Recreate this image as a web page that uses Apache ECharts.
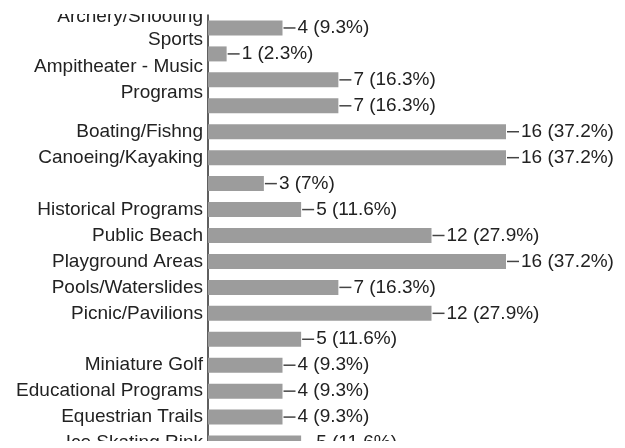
<!DOCTYPE html>
<html>
<head>
<meta charset="utf-8">
<script src="https://cdn.jsdelivr.net/npm/echarts@6/dist/echarts.min.js"></script>
<style>
  html, body { margin: 0; padding: 0; background: #ffffff; }
  #chart { width: 625px; height: 448px; }
</style>
</head>
<body>
<div id="chart"></div>
<script>
// Category labels (as shown on the axis; some rows carry no visible label)
const categories = [
  "Archery/Shooting\nSports",
  "",
  "Ampitheater - Music\nPrograms",
  "",
  "Boating/Fishng",
  "Canoeing/Kayaking",
  "",
  "Historical Programs",
  "Public Beach",
  "Playground Areas",
  "Pools/Waterslides",
  "Picnic/Pavilions",
  "",
  "Miniature Golf",
  "Educational Programs",
  "Equestrian Trails",
  "Ice Skating Rink"
];
// Response counts
const counts = [4, 1, 7, 7, 16, 16, 3, 5, 12, 16, 7, 12, 5, 4, 4, 4, 5];
// Percent labels as printed
const percents = ["9.3%", "2.3%", "16.3%", "16.3%", "37.2%", "37.2%", "7%", "11.6%", "27.9%", "37.2%", "16.3%", "27.9%", "11.6%", "9.3%", "9.3%", "9.3%", "11.6%"];

const FONT = "'Liberation Sans', Arial, Helvetica, sans-serif";
const FS = 19;
const chart = echarts.init(document.getElementById('chart'), null, { renderer: 'canvas' });

chart.setOption({
  animation: false,
  backgroundColor: '#ffffff',
  grid: { left: 208, top: 15, height: 441, right: 44.5, containLabel: false, outerBoundsMode: 'none' },
  xAxis: {
    type: 'value',
    min: 0,
    max: 20,
    show: false,
    splitLine: { show: false }
  },
  yAxis: {
    type: 'category',
    inverse: true,
    data: categories,
    axisTick: { show: false },
    axisLine: { show: true, lineStyle: { color: '#2a2a2a', width: 1.5 } },
    axisLabel: {
      interval: 0,
      margin: 5,
      fontFamily: FONT,
      fontSize: FS,
      color: '#222222',
      formatter: function (value, index) {
        if (value.indexOf('\n') < 0) return value;
        const style = index === 0 ? 'a' : 'b';
        return value.split('\n').map(function (s) { return '{' + style + '|' + s + '}'; }).join('\n');
      },
      rich: {
        a: { fontFamily: FONT, fontSize: FS, color: '#222222', lineHeight: 23 },
        b: { fontFamily: FONT, fontSize: FS, color: '#222222', lineHeight: 26 }
      }
    }
  },
  series: [{
    type: 'bar',
    data: counts,
    barWidth: 15,
    itemStyle: { color: '#9c9c9c' },
    label: {
      show: true,
      position: 'right',
      distance: 1,
      fontFamily: FONT,
      fontSize: FS,
      color: '#222222',
      formatter: function (p) {
        return '{l|}{t|' + counts[p.dataIndex] + ' (' + percents[p.dataIndex] + ')}';
      },
      rich: {
        l: { width: 12, height: 1.5, backgroundColor: '#444444' },
        t: { fontFamily: FONT, fontSize: FS, color: '#222222', padding: [0, 0, 0, 2] }
      }
    }
  }],
  graphic: [
    { type: 'rect', z: 100, silent: true, shape: { x: 0, y: 0, width: 625, height: 14 }, style: { fill: '#ffffff' } },
    { type: 'rect', z: 100, silent: true, shape: { x: 0, y: 441, width: 625, height: 7 }, style: { fill: '#ffffff' } }
  ]
});
</script>
</body>
</html>
